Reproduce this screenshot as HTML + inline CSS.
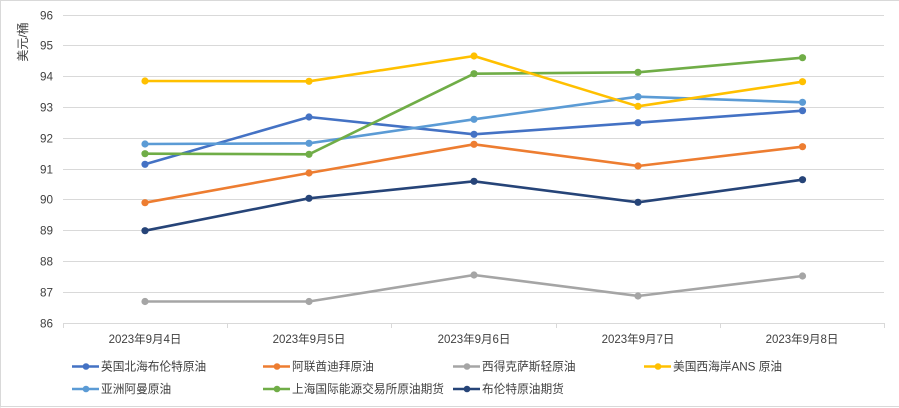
<!DOCTYPE html>
<html><head><meta charset="utf-8"><style>
html,body{margin:0;padding:0;background:#fff;}
svg{display:block;}
text{font-family:"Liberation Sans","Noto Sans CJK SC",sans-serif;fill:#404040;}
</style></head><body>
<svg width="899" height="408" viewBox="0 0 899 408" xmlns="http://www.w3.org/2000/svg">
<rect x="0" y="0" width="899" height="408" fill="#fff"/>
<path d="M0.5 407.5 L0.5 0.5 L899 0.5 M0 406.5 L899 406.5" stroke="#D9D9D9" stroke-width="1" fill="none"/>
<g stroke="#D9D9D9" stroke-width="1">
<line x1="63" y1="15.5" x2="884" y2="15.5"/>
<line x1="63" y1="45.5" x2="884" y2="45.5"/>
<line x1="63" y1="76.5" x2="884" y2="76.5"/>
<line x1="63" y1="107.5" x2="884" y2="107.5"/>
<line x1="63" y1="138.5" x2="884" y2="138.5"/>
<line x1="63" y1="169.5" x2="884" y2="169.5"/>
<line x1="63" y1="199.5" x2="884" y2="199.5"/>
<line x1="63" y1="230.5" x2="884" y2="230.5"/>
<line x1="63" y1="261.5" x2="884" y2="261.5"/>
<line x1="63" y1="292.5" x2="884" y2="292.5"/>
<line x1="63" y1="323.5" x2="884" y2="323.5"/>
<line x1="63.5" y1="323" x2="63.5" y2="328"/>
<line x1="227.5" y1="323" x2="227.5" y2="328"/>
<line x1="391.5" y1="323" x2="391.5" y2="328"/>
<line x1="556.5" y1="323" x2="556.5" y2="328"/>
<line x1="720.5" y1="323" x2="720.5" y2="328"/>
<line x1="884.5" y1="323" x2="884.5" y2="328"/>
</g>
<g font-size="11.7" text-anchor="end">
<text x="53" y="19.5">96</text>
<text x="53" y="49.5">95</text>
<text x="53" y="80.5">94</text>
<text x="53" y="111.5">93</text>
<text x="53" y="142.5">92</text>
<text x="53" y="173.5">91</text>
<text x="53" y="203.5">90</text>
<text x="53" y="234.5">89</text>
<text x="53" y="265.5">88</text>
<text x="53" y="296.5">87</text>
<text x="53" y="327.5">86</text>
</g>
<text x="0" y="0" font-size="12" text-anchor="middle" transform="translate(27,42) rotate(-90)">美元/桶</text>
<g font-size="11.5" text-anchor="middle">
<text x="145" y="343">2023年9月4日</text>
<text x="309" y="343">2023年9月5日</text>
<text x="474" y="343">2023年9月6日</text>
<text x="638" y="343">2023年9月7日</text>
<text x="802" y="343">2023年9月8日</text>
</g>
<g fill="none" stroke-width="2.6" stroke-linejoin="round" stroke-linecap="round">
<polyline stroke="#A5A5A5" points="145,301.5 309,301.5 474,275 638,296 802.5,276"/>
<polyline stroke="#264478" points="145,230.7 309,198.3 474,181.3 638,202.3 802.5,179.7"/>
<polyline stroke="#ED7D31" points="145,202.7 309,173 474,144.3 638,166 802.5,146.7"/>
<polyline stroke="#4472C4" points="145,164.3 309,117 474,134.3 638,122.7 802.5,110.7"/>
<polyline stroke="#5B9BD5" points="145,144 309,143.3 474,119.3 638,96.7 802.5,102.3"/>
<polyline stroke="#70AD47" points="145,153.7 309,154.3 474,73.7 638,72.3 802.5,57.7"/>
<polyline stroke="#FFC000" points="145,81 309,81.3 474,56 638,106.3 802.5,81.7"/>
</g>
<g>
<g fill="#A5A5A5"><circle cx="145" cy="301.5" r="3.6"/><circle cx="309" cy="301.5" r="3.6"/><circle cx="474" cy="275" r="3.6"/><circle cx="638" cy="296" r="3.6"/><circle cx="802.5" cy="276" r="3.6"/></g>
<g fill="#264478"><circle cx="145" cy="230.7" r="3.6"/><circle cx="309" cy="198.3" r="3.6"/><circle cx="474" cy="181.3" r="3.6"/><circle cx="638" cy="202.3" r="3.6"/><circle cx="802.5" cy="179.7" r="3.6"/></g>
<g fill="#ED7D31"><circle cx="145" cy="202.7" r="3.6"/><circle cx="309" cy="173" r="3.6"/><circle cx="474" cy="144.3" r="3.6"/><circle cx="638" cy="166" r="3.6"/><circle cx="802.5" cy="146.7" r="3.6"/></g>
<g fill="#4472C4"><circle cx="145" cy="164.3" r="3.6"/><circle cx="309" cy="117" r="3.6"/><circle cx="474" cy="134.3" r="3.6"/><circle cx="638" cy="122.7" r="3.6"/><circle cx="802.5" cy="110.7" r="3.6"/></g>
<g fill="#5B9BD5"><circle cx="145" cy="144" r="3.6"/><circle cx="309" cy="143.3" r="3.6"/><circle cx="474" cy="119.3" r="3.6"/><circle cx="638" cy="96.7" r="3.6"/><circle cx="802.5" cy="102.3" r="3.6"/></g>
<g fill="#70AD47"><circle cx="145" cy="153.7" r="3.6"/><circle cx="309" cy="154.3" r="3.6"/><circle cx="474" cy="73.7" r="3.6"/><circle cx="638" cy="72.3" r="3.6"/><circle cx="802.5" cy="57.7" r="3.6"/></g>
<g fill="#FFC000"><circle cx="145" cy="81" r="3.6"/><circle cx="309" cy="81.3" r="3.6"/><circle cx="474" cy="56" r="3.6"/><circle cx="638" cy="106.3" r="3.6"/><circle cx="802.5" cy="81.7" r="3.6"/></g>
</g>
<g stroke-width="2.6">
<line x1="72" y1="366.5" x2="99" y2="366.5" stroke="#4472C4"/><circle cx="86" cy="366.5" r="3.3" fill="#4472C4"/>
<line x1="263" y1="366.5" x2="290" y2="366.5" stroke="#ED7D31"/><circle cx="277" cy="366.5" r="3.3" fill="#ED7D31"/>
<line x1="453" y1="366.5" x2="480" y2="366.5" stroke="#A5A5A5"/><circle cx="467" cy="366.5" r="3.3" fill="#A5A5A5"/>
<line x1="644" y1="366.5" x2="671" y2="366.5" stroke="#FFC000"/><circle cx="658" cy="366.5" r="3.3" fill="#FFC000"/>
<line x1="72" y1="389" x2="99" y2="389" stroke="#5B9BD5"/><circle cx="86" cy="389" r="3.3" fill="#5B9BD5"/>
<line x1="263" y1="389" x2="290" y2="389" stroke="#70AD47"/><circle cx="277" cy="389" r="3.3" fill="#70AD47"/>
<line x1="453" y1="389" x2="480" y2="389" stroke="#264478"/><circle cx="467" cy="389" r="3.3" fill="#264478"/>
</g>
<g font-size="11.7">
<text x="101" y="370.5">英国北海布伦特原油</text>
<text x="292" y="370.5">阿联酋迪拜原油</text>
<text x="482" y="370.5">西得克萨斯轻原油</text>
<text x="673" y="370.5">美国西海岸ANS 原油</text>
<text x="101" y="393">亚洲阿曼原油</text>
<text x="292" y="393">上海国际能源交易所原油期货</text>
<text x="482" y="393">布伦特原油期货</text>
</g>
</svg>
</body></html>
